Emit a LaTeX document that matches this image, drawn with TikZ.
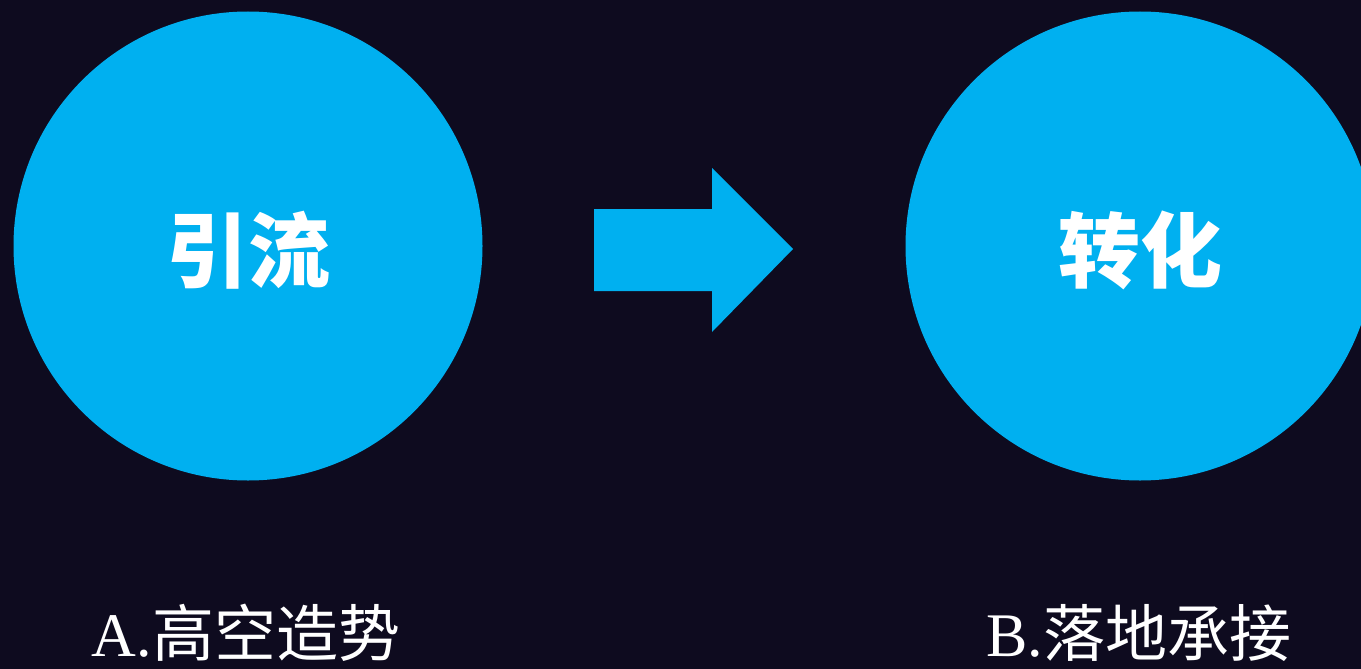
\documentclass[tikz,border=0pt]{standalone}
\usepackage{fontspec}
\setmainfont{Liberation Serif}
\newfontfamily\cjk{Noto Sans CJK SC}
\definecolor{bgdark}{HTML}{0E0B1F}
\definecolor{cyanfill}{HTML}{00B0F0}
\begin{document}
\begin{tikzpicture}[x=1pt,y=-1pt,
  bubble/.style={circle,fill=cyanfill,minimum size=469pt,inner sep=0pt},
  bubbletext/.style={text=white,font={\cjk\bfseries\fontsize{82}{82}\selectfont}},
  caption/.style={text=white,inner sep=0pt,font={\fontsize{62}{62}\selectfont}}]
\useasboundingbox (0,0) rectangle (1361,669);
\clip (0,0) rectangle (1361,669);
\fill[bgdark] (0,0) rectangle (1361,669);
\node[bubble] (left) at (248,246) {};
\node[bubble] (right) at (1140,246) {};
\node[bubbletext] (lt) at (left.center) [yshift=-4pt] {引流};
\node[bubbletext] (rt) at (right.center) [yshift=-4pt] {转化};
\fill[cyanfill] (594,209) -- (712,209) -- (712,168) -- (793,249) -- (712,332) -- (712,291) -- (594,291) -- cycle;
\node[caption,anchor=center] (la) at (246,633) {A.{\cjk 高空造势}};
\node[caption,anchor=center] (lb) at (1139,633) {B.{\cjk 落地承接}};
\end{tikzpicture}
\end{document}
